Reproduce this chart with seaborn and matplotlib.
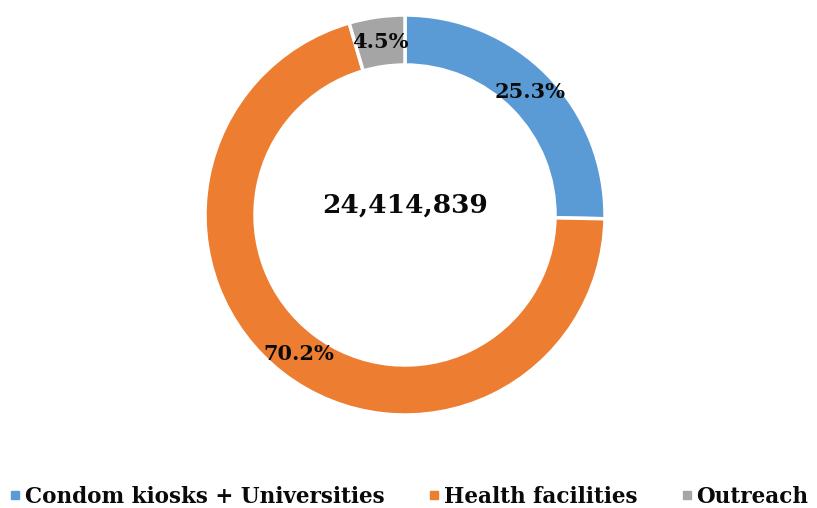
import matplotlib
matplotlib.use("Agg")
import matplotlib.pyplot as plt
from matplotlib.lines import Line2D
import numpy as np
import seaborn as sns

categories = ["Condom kiosks + Universities", "Health facilities", "Outreach"]
shares = [25.3, 70.2, 4.5]
total_label = "24,414,839"
colors = ["#5B9BD5", "#ED7D31", "#A5A5A5"]

sns.set_theme(style="white")
plt.rcParams["font.family"] = ["DejaVu Serif", "DejaVu Sans"]

W, H = 817, 508
fig = plt.figure(figsize=(W / 100, H / 100), dpi=100)
cx, cy, r = 405, 215, 200
ax = fig.add_axes([(cx - r) / W, (H - cy - r) / H, 2 * r / W, 2 * r / H])

wedges, _ = ax.pie(
    shares,
    colors=colors,
    startangle=90,
    counterclock=False,
    radius=1.0,
    wedgeprops=dict(width=0.25, edgecolor="white", linewidth=2.5),
)
ax.set_aspect("equal")
ax.set_xlim(-1, 1)
ax.set_ylim(-1, 1)

# percentage labels at the middle of each ring segment
start = 90.0
for val in shares:
    mid = np.deg2rad(start - val * 3.6 / 2)
    start -= val * 3.6
    ax.text(0.875 * np.cos(mid), 0.875 * np.sin(mid), f"{val:.1f}%",
            ha="center", va="center", fontsize=15, fontweight="bold",
            color="#0a0a0a")

ax.text(0, 0.05, total_label, ha="center", va="center", fontsize=19,
        fontweight="bold", color="#0a0a0a")

handles = [Line2D([0], [0], marker="s", linestyle="none", markersize=6,
                  markerfacecolor=c, markeredgecolor=c) for c in colors]
fig.legend(handles, categories, loc="center", bbox_to_anchor=(0.5, 1 - 497 / H),
           ncol=3, frameon=False, handletextpad=0.15, columnspacing=2.0,
           handlelength=0.6, labelcolor="#0a0a0a",
           prop=dict(family=["DejaVu Serif", "DejaVu Sans"], weight="bold",
                     size=15.5))

fig.savefig("out.png", dpi=100, facecolor="white")
